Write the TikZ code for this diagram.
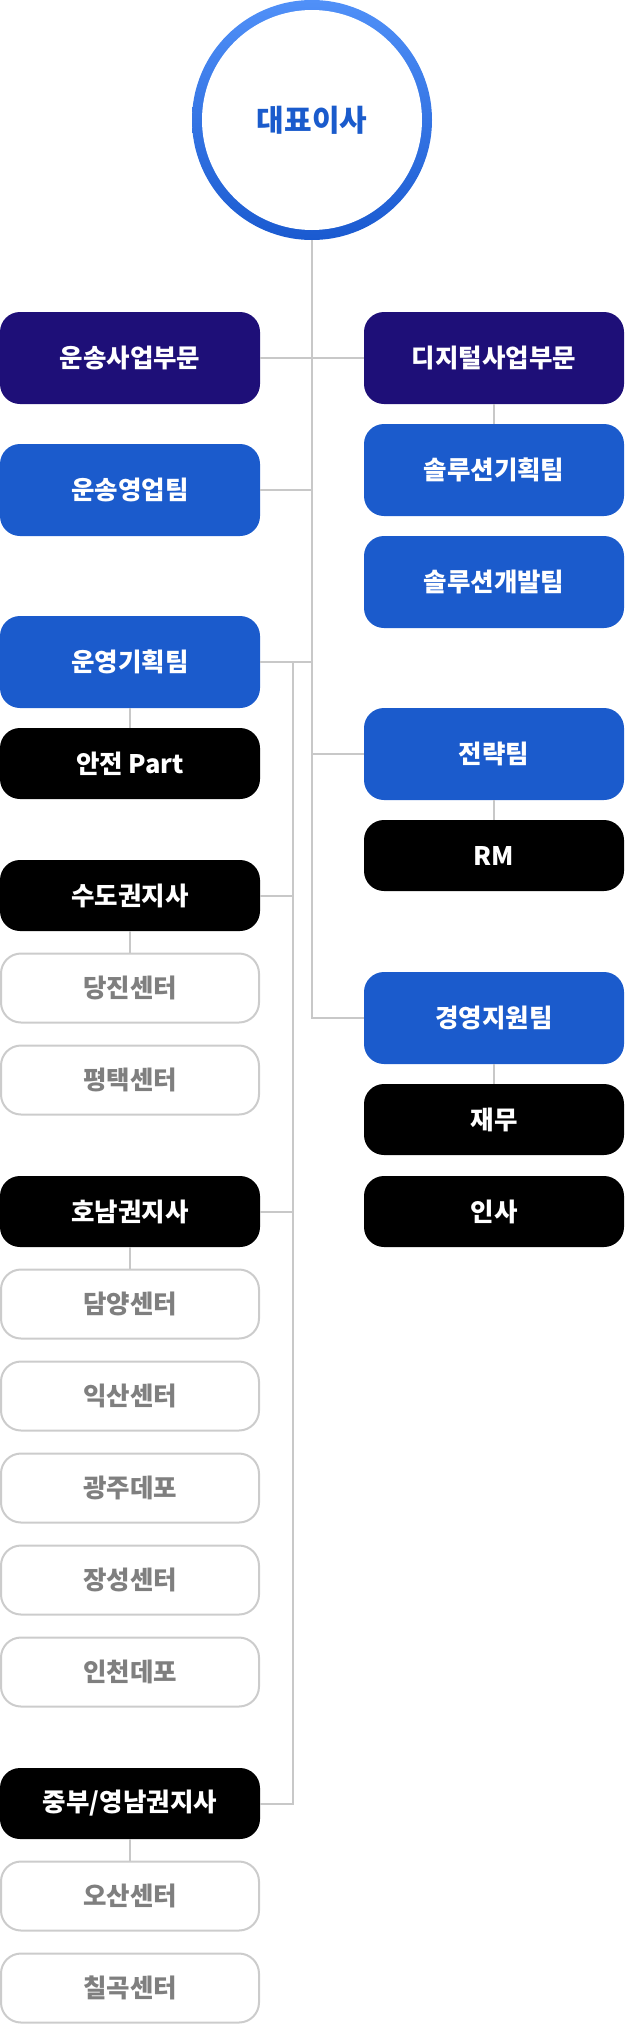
\documentclass[tikz,border=0pt]{standalone}
\usepackage{fontspec}
\setmainfont{Noto Sans CJK KR}
\usetikzlibrary{calc}
\definecolor{navy}{HTML}{1E0F78}
\definecolor{teamblue}{HTML}{1B5BCC}
\definecolor{linegray}{HTML}{C8C8C8}
\definecolor{boxgray}{HTML}{CCCCCC}
\definecolor{txtgray}{HTML}{7F7F7F}
\definecolor{ringtop}{HTML}{5090F8}
\definecolor{ringbot}{HTML}{1A5AD0}
\definecolor{ceotext}{HTML}{1A5BCC}
\begin{document}
\begin{tikzpicture}[x=1pt,y=-1pt,
  box/.style={rounded corners=20pt, minimum width=260pt, inner sep=0pt,
    font=\fontsize{25.5}{30}\selectfont\bfseries, text=white},
  big/.style={box, minimum height=92pt},
  small/.style={box, minimum height=71pt},
  navybox/.style={big, fill=navy},
  teambox/.style={big, fill=teamblue},
  blackbox/.style={small, fill=black},
  outbox/.style={small, draw=boxgray, line width=2pt, fill=white, text=txtgray,
    minimum width=258pt, minimum height=69pt},
  conn/.style={draw=linegray, line width=2pt}
]
\useasboundingbox (0,0) rectangle (624,2024);

% CEO circle
\node[circle, minimum size=240pt, inner sep=0pt, top color=ringtop, bottom color=ringbot] (ceo) at (312,120) {};
\node[circle, minimum size=220pt, inner sep=0pt, fill=white, text=ceotext,
  font=\fontsize{30}{34}\selectfont\bfseries] (ceoin) at (ceo.center) {대표이사};

% left column
\node[navybox] (div1) at (130,358) {운송사업부문};
\node[teambox] (sales) at (130,490) {운송영업팀};
\node[teambox] (ops) at (130,662) {운영기획팀};
\node[blackbox] (safety) at (130,763.5) {안전 Part};
\node[blackbox] (sudo) at (130,895.5) {수도권지사};
\node[outbox] (dangjin) at (130,988) {당진센터};
\node[outbox] (pyeongtaek) at (130,1080) {평택센터};
\node[blackbox] (honam) at (130,1211.5) {호남권지사};
\node[outbox] (damyang) at (130,1304) {담양센터};
\node[outbox] (iksan) at (130,1396) {익산센터};
\node[outbox] (gwangju) at (130,1488) {광주데포};
\node[outbox] (jangseong) at (130,1580) {장성센터};
\node[outbox] (incheon) at (130,1672) {인천데포};
\node[blackbox] (jb) at (130,1803.5) {중부/영남권지사};
\node[outbox] (osan) at (130,1896) {오산센터};
\node[outbox] (chilgok) at (130,1988) {칠곡센터};

% right column
\node[navybox] (div2) at (494,358) {디지털사업부문};
\node[teambox] (sol1) at (494,470) {솔루션기획팀};
\node[teambox] (sol2) at (494,582) {솔루션개발팀};
\node[teambox] (strat) at (494,754) {전략팀};
\node[blackbox] (rm) at (494,855.5) {RM};
\node[teambox] (gyeong) at (494,1018) {경영지원팀};
\node[blackbox] (jaemu) at (494,1119.5) {재무};
\node[blackbox] (insa) at (494,1211.5) {인사};

% connectors
\coordinate (sub) at (293,0);
\draw[conn] (ceo.south) |- (gyeong.west);
\draw[conn] (div1.east) -- (div2.west);
\draw[conn] (sales.east) -- (sales.east -| ceo.south);
\draw[conn] (ops.east) -- (ops.east -| ceo.south);
\draw[conn] (strat.west) -- (strat.west -| ceo.south);
\draw[conn] (ops.east -| sub) |- (jb.east);
\draw[conn] (sudo.east) -- (sudo.east -| sub);
\draw[conn] (honam.east) -- (honam.east -| sub);
\draw[conn] (div2.south) -- (sol1.north);
\draw[conn] (strat.south) -- (rm.north);
\draw[conn] (gyeong.south) -- (jaemu.north);
\draw[conn] (ops.south) -- (safety.north);
\draw[conn] (sudo.south) -- (dangjin.north);
\draw[conn] (honam.south) -- (damyang.north);
\draw[conn] (jb.south) -- (osan.north);
\end{tikzpicture}
\end{document}
